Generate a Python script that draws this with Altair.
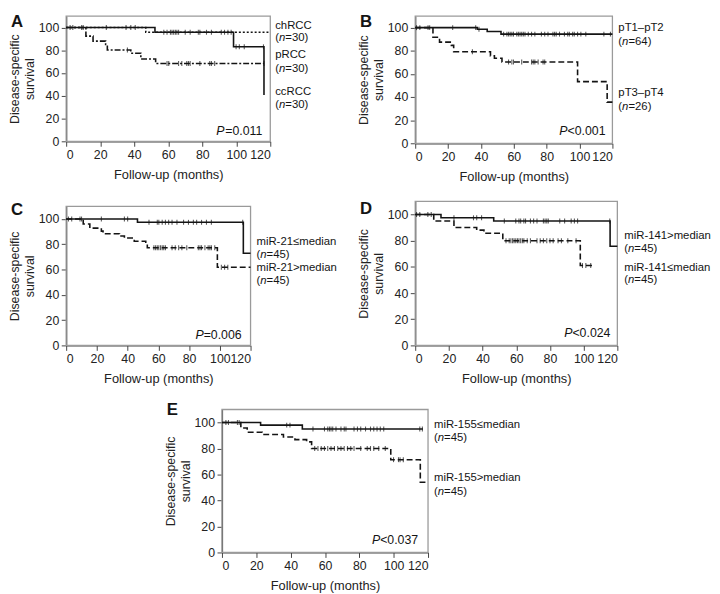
import altair as alt
import pandas as pd

FONT = "Liberation Sans"
INK = "#141414"

# ---------------- data ----------------
months_ticks = [0, 20, 40, 60, 80, 100, 120]
surv_ticks = [0, 20, 40, 60, 80, 100]

# Panel A
a_chrcc_t = [0, 46.8, 120]
a_chrcc_s = [100, 95.8, 95.8]
a_chrcc_c = [57.4, 59.3, 61.3, 62.2, 63.2, 64.2, 65.1, 66.1, 70.0, 72.9, 77.7, 78.6,
             82.5, 85.4, 91.2, 93.1, 95.1, 97.0]
a_prcc_t = [0, 52.2, 98.4, 116.3]
a_prcc_s = [100, 95.8, 83.0, 40.7]
a_prcc_c = [2.3, 3.9, 9.1, 10.0, 23.6, 35.2, 38.0, 40.6, 99.9, 101.8, 104.7, 116.0]
a_ccrcc_t = [0, 11.6, 15.8, 23.2, 24.2, 38.0, 43.9, 52.6, 116.3]
a_ccrcc_s = [100, 92.4, 88.0, 85.0, 80.2, 77.4, 72.3, 68.4, 68.4]
a_ccrcc_c = [36.0, 59.3, 60.3, 66.1, 68.0, 70.9, 71.9, 72.9, 78.6, 84.4, 85.4, 87.3, 116.3]

# Panel B
b_low_t = [0, 37.8, 43.8, 52.2, 120]
b_low_s = [100, 98.6, 96.7, 94.4, 94.4]
b_low_c = [0.8, 2.8, 7.8, 8.8, 22.8, 36.8, 38.8, 53.8, 55.8, 56.8, 57.8, 58.8, 59.8, 61.8,
           62.8, 63.8, 64.8, 65.8, 66.8, 68.8, 70.8, 72.8, 76.8, 78.8, 80.8, 83.8, 84.8,
           85.8, 87.8, 90.8, 92.8, 93.8, 95.8, 96.8, 98.8, 100.8, 103.8, 114.8, 118.8]
b_high_t = [0, 10.8, 14.8, 22.0, 23.4, 45.8, 48.2, 52.8, 98.8, 116.8, 120]
b_high_s = [100, 91.7, 87.5, 84.7, 79.2, 75.6, 73.6, 70.3, 53.3, 35.6, 35.6]
b_high_c = [34.8, 56.8, 58.8, 59.8, 64.8, 70.8, 71.8, 72.8, 74.8, 77.8, 78.8]

# Panel C
c_low_t = [0, 46.4, 115.3, 120]
c_low_s = [100, 97.4, 72.9, 72.9]
c_low_c = [1.5, 3.6, 9.0, 10.0, 22.9, 37.9, 40.0, 53.9, 59.3, 60.3, 62.5, 64.6, 66.7, 68.9,
           72.1, 76.4, 79.6, 82.8, 84.9, 88.1, 91.3, 94.5, 114.9]
c_high_t = [0, 11.1, 15.4, 22.9, 24.0, 34.7, 37.9, 44.3, 51.8, 52.8, 98.4, 120]
c_high_s = [100, 96.1, 92.8, 90.4, 88.4, 86.6, 85.0, 82.4, 80.6, 77.3, 61.8, 61.8]
c_high_c = [57.1, 58.2, 59.3, 60.3, 61.4, 62.5, 63.5, 64.6, 68.9, 71.0, 73.2, 75.3, 78.5,
            86.0, 87.1, 88.1, 90.3, 92.4, 93.5, 94.5, 96.7, 101.0, 103.1, 105.2]

# Panel D
d_high_t = [0, 15.3, 46.6, 115.7, 120]
d_high_s = [100, 97.5, 95.1, 75.8, 75.8]
d_high_c = [0.8, 2.7, 7.5, 9.5, 23.0, 34.6, 36.5, 39.4, 52.9, 59.7, 61.6, 62.6, 64.5, 65.5,
            68.4, 70.3, 72.3, 76.1, 77.1, 78.1, 79.0, 85.8, 88.7, 92.6, 94.5, 96.4, 115.5]
d_low_t = [0, 11.0, 23.0, 36.5, 40.8, 52.0, 98.0, 105.0]
d_low_s = [100, 95.1, 90.1, 88.1, 85.7, 80.0, 61.0, 61.0]
d_low_c = [53.9, 55.8, 56.8, 57.8, 58.7, 59.7, 60.7, 61.6, 62.6, 63.6, 64.5, 66.5, 68.4,
           72.3, 74.2, 76.1, 78.1, 80.0, 81.9, 84.8, 86.8, 90.6, 95.5, 99.3, 101.3, 104.2]

# Panel E
e_low_t = [0, 22.5, 46.8, 117.0]
e_low_s = [100, 98.0, 95.0, 95.0]
e_low_c = [2.3, 3.8, 9.0, 10.0, 37.7, 39.6, 53.0, 59.7, 61.6, 62.6, 63.5, 64.5, 66.4, 69.3,
           71.2, 72.2, 76.9, 78.9, 80.8, 83.6, 86.5, 88.4, 90.3, 92.2, 94.2, 115.2, 116.7]
e_high_t = [0, 11.0, 14.7, 23.4, 35.8, 42.5, 49.3, 52.2, 98.3, 115.5, 120]
e_high_s = [100, 95.8, 92.5, 90.8, 88.8, 86.8, 85.1, 80.0, 71.4, 54.0, 54.0]
e_high_c = [54.0, 55.9, 57.8, 59.7, 61.6, 63.5, 65.5, 67.4, 69.3, 71.2, 73.1, 75.0, 76.9,
            80.8, 84.6, 86.5, 88.4, 91.3, 95.1, 99.9, 102.8, 103.7, 105.6]

# ---------------- helpers ----------------
CW = {"(": .333, ")": .333, "=": .584, "<": .584, ">": .584, ".": .278, "P": .667, "n": .556}
for d in "0123456789":
    CW[d] = .556


def tw(s, size):
    return sum(CW.get(ch, .556) for ch in s) * size


ONE = pd.DataFrame({"k": [0]})
LAB = 11.5
PSZ = 12.5


def txt(s, x, y, size=LAB, italic=False, align="left", baseline="middle", bold=False):
    kw = dict(text=s, font=FONT, fontSize=size, align=align, baseline=baseline, color=INK)
    if italic:
        kw["fontStyle"] = "italic"
    if bold:
        kw["fontWeight"] = "bold"
    return alt.Chart(ONE).mark_text(**kw).encode(x=alt.value(x), y=alt.value(y))


def nline(n, x, y):
    return [txt("(", x, y), txt("n", x + tw("(", LAB), y, italic=True),
            txt("=%d)" % n, x + tw("(n", LAB), y)]


def censor_y(t, s, c):
    out = []
    for ci in c:
        v = s[0]
        for ti, si in zip(t, s):
            if ti <= ci:
                v = si
        out.append(v)
    return out


def panel(letter, curves, legend, ptext, W, H, box, top=0, lxy=(-56, -2), pdx=8, pdy=10, ldx=6):
    xenc = alt.X("t:Q", scale=alt.Scale(domain=[0, 120], nice=False),
                 axis=alt.Axis(values=months_ticks, title="Follow-up (months)"))
    yenc = alt.Y("s:Q", scale=alt.Scale(domain=[0, 110], nice=False, range=[H, top]),
                 axis=alt.Axis(values=surv_ticks, title=["Disease-specific", "survival"]))
    L, T, R, B = box
    layers = [
        # invisible layout box (fixes the panel's bounds)
        alt.Chart(ONE).mark_rect(opacity=0).encode(
            x=alt.value(-L), x2=alt.value(W + R), y=alt.value(-T), y2=alt.value(H + B)),
        # plot frame
        alt.Chart(ONE).mark_rect(fillOpacity=0, stroke="#9a9a9a", strokeWidth=1.3).encode(
            x=alt.value(0), x2=alt.value(W), y=alt.value(top), y2=alt.value(H)),
    ]
    for t, s, c, dash in curves:
        lk = dict(interpolate="step-after", color=INK, strokeWidth=1.6)
        if dash:
            lk["strokeDash"] = dash
        layers.append(alt.Chart(pd.DataFrame({"t": t, "s": s})).mark_line(**lk).encode(x=xenc, y=yenc))
        layers.append(alt.Chart(pd.DataFrame({"t": c, "s": censor_y(t, s, c)})).mark_tick(
            orient="vertical", size=5, thickness=1.1, color=INK).encode(x=xenc, y=yenc))
    for kind, val, y in legend:
        if kind == "t":
            layers.append(txt(val, W + ldx, top + y))
        else:
            layers += nline(val, W + ldx, top + y)
    pre, rest = ptext
    xr = W - pdx
    layers.append(txt(rest, xr, H - pdy, size=PSZ, align="right"))
    layers.append(txt(pre, xr - tw(rest, PSZ), H - pdy, size=PSZ, align="right", italic=True))
    layers.append(txt(letter, lxy[0], top + lxy[1], size=17, bold=True, baseline="top"))
    return alt.layer(*layers).properties(width=W, height=H)


BOT = 43
A = panel("A", [(a_chrcc_t, a_chrcc_s, a_chrcc_c, [2, 2]),
                (a_prcc_t, a_prcc_s, a_prcc_c, None),
                (a_ccrcc_t, a_ccrcc_s, a_ccrcc_c, [6, 2, 2, 2])],
          [("t", "chRCC", 10), ("n", 30, 22), ("t", "pRCC", 40), ("n", 30, 54),
           ("t", "ccRCC", 77), ("n", 30, 90)],
          ("P", "=0.011"), 207, 127, box=(58, 2, 50, BOT), pdx=8, pdy=10, ldx=5)
B = panel("B", [(b_low_t, b_low_s, b_low_c, None),
                (b_high_t, b_high_s, b_high_c, [6, 3])],
          [("t", "pT1\u2013pT2", 12), ("n", 64, 26), ("t", "pT3\u2013pT4", 78), ("n", 26, 92)],
          ("P", "<0.001"), 200, 129, box=(58, 2, 60, BOT), pdx=7, pdy=12)
C = panel("C", [(c_low_t, c_low_s, c_low_c, None),
                (c_high_t, c_high_s, c_high_c, [6, 3])],
          [("t", "miR-21\u2264median", 36), ("n", 45, 49), ("t", "miR-21>median", 63), ("n", 45, 76)],
          ("P", "=0.006"), 187, 146, box=(58, 2, 90, BOT), top=5, lxy=(-56, -4), pdx=9, pdy=11)
D = panel("D", [(d_high_t, d_high_s, d_high_c, None),
                (d_low_t, d_low_s, d_low_c, [6, 3])],
          [("t", "miR-141>median", 35), ("n", 45, 48), ("t", "miR-141\u2264median", 68), ("n", 45, 80)],
          ("P", "<0.024"), 205, 146, box=(58, 2, 95, BOT), lxy=(-56, 0), pdx=7, pdy=13, ldx=7)
E = panel("E", [(e_low_t, e_low_s, e_low_c, None),
                (e_high_t, e_high_s, e_high_c, [6, 3])],
          [("t", "miR-155\u2264median", 16), ("n", 45, 29), ("t", "miR-155>median", 70), ("n", 45, 84)],
          ("P", "<0.037"), 209, 145, box=(58, 8, 95, BOT), lxy=(-56, -7), pdx=10, pdy=13)

spacer = alt.Chart(ONE).mark_rect(opacity=0).encode(
    x=alt.value(0), x2=alt.value(98), y=alt.value(0), y2=alt.value(10)).properties(width=98, height=10)

row1 = alt.hconcat(A, B, spacing=37)
row2 = alt.hconcat(C, D, spacing=17)
row3 = alt.hconcat(spacer, E, spacing=0)

chart = alt.vconcat(row1, row2, row3, spacing=12).properties(
    padding=0, autosize=alt.AutoSizeParams(type="pad")
).configure_view(stroke="transparent").configure_axis(
    labelFont=FONT, titleFont=FONT, labelFontSize=12.5, titleFontSize=12.5,
    titleFontWeight="normal", labelColor="#222", titleColor="#222",
    domainColor="#444", tickColor="#444", tickSize=5, grid=False, zindex=1,
    labelPadding=2.5, domainWidth=1.3, labelOverlap=False
).configure_axisY(titlePadding=2, titleLineHeight=15).configure_axisX(titlePadding=8, titleFontSize=13)

chart.save("out.html", embed_options={"renderer": "svg", "actions": False})
